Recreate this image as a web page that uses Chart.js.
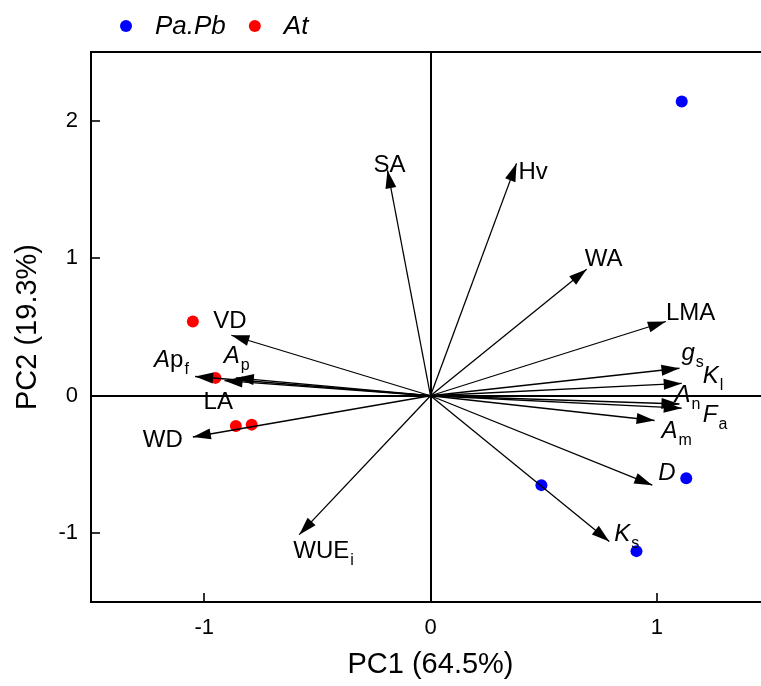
<!DOCTYPE html>
<html>
<head>
<meta charset="utf-8">
<script src="https://cdn.jsdelivr.net/npm/chart.js@4.4.1/dist/chart.umd.min.js"></script>
<style>
  html, body { margin: 0; padding: 0; background: #fff; overflow: hidden; }
  #wrap { width: 776px; height: 686px; }
</style>
</head>
<body>
<div id="wrap"><canvas id="pca" width="776" height="686"></canvas></div>
<script>
// ---- Scores (sample points) ----
const seriesNames  = ['Pa.Pb', 'At'];
const seriesColors = ['#0000ff', '#ff0000'];
const paPbPC1 = [1.11, 0.49, 1.13, 0.91];
const paPbPC2 = [2.14, -0.65, -0.60, -1.13];
const atPC1   = [-1.05, -0.95, -0.86, -0.79];
const atPC2   = [0.54, 0.13, -0.22, -0.21];

// ---- Loadings (trait arrows) ----
const traitNames = ['SA', 'Hv', 'WA', 'LMA', 'gs', 'Kl', 'An', 'Fa', 'Am', 'D', 'Ks', 'WUEi', 'WD', 'VD', 'Apf', 'Ap', 'LA'];
const traitPC1 = [-0.19, 0.38, 0.69, 1.04, 1.10, 1.11, 1.10, 1.11, 0.99, 0.98, 0.79, -0.58, -1.05, -0.88, -1.04, -0.86, -0.91];
const traitPC2 = [1.64, 1.69, 0.92, 0.54, 0.20, 0.09, -0.06, -0.09, -0.18, -0.65, -1.06, -1.01, -0.30, 0.44, 0.14, 0.13, 0.11];

// ---- Axis ticks and titles ----
const xTicks = [-1, 0, 1];
const yTicks = [-1, 0, 1, 2];
const xTitle = 'PC1 (64.5%)';
const yTitle = 'PC2 (19.3%)';

// Rich-text pieces for each trait label: [text, style]
// n = upright, i = italic, sub = upright subscript
const traitText = {
  SA:   [['SA', 'n']],
  Hv:   [['Hv', 'n']],
  WA:   [['WA', 'n']],
  LMA:  [['LMA', 'n']],
  gs:   [['g', 'i'], ['s', 'sub']],
  Kl:   [['K', 'i'], ['l', 'sub']],
  An:   [['A', 'i'], ['n', 'sub']],
  Fa:   [['F', 'i'], ['a', 'sub']],
  Am:   [['A', 'i'], ['m', 'sub']],
  D:    [['D', 'i']],
  Ks:   [['K', 'i'], ['s', 'sub']],
  WUEi: [['WUE', 'n'], ['i', 'sub']],
  WD:   [['WD', 'n']],
  VD:   [['VD', 'n']],
  Apf:  [['A', 'i'], ['p', 'n'], ['f', 'sub']],
  Ap:   [['A', 'i'], ['p', 'sub']],
  LA:   [['LA', 'n']]
};
// Label placement: pixel offset of text start/baseline from the arrow tip
const labelOffset = {
  SA: [-14, 2], Hv: [2, 16], WA: [-2, -3], LMA: [0, -2], gs: [2, -8], Kl: [21, 0],
  An: [-5, -2], Fa: [21, 14], Am: [7, 17], D: [6, -5], Ks: [5, -1], WUEi: [-6, 23],
  WD: [-50, 10], VD: [-18, -7], Apf: [-41, -10], Ap: [-12, -15], LA: [-21, 28]
};

const FONT = "'Liberation Sans', Arial, Helvetica, sans-serif";
Chart.defaults.font.family = FONT;
Chart.defaults.color = '#000';

const toXY = (xs, ys) => xs.map((x, i) => ({ x, y: ys[i] }));

const datasets = [
  {
    label: seriesNames[0], data: toXY(paPbPC1, paPbPC2),
    backgroundColor: seriesColors[0], borderColor: seriesColors[0],
    pointRadius: 6, borderWidth: 0, order: 5
  },
  {
    label: seriesNames[1], data: toXY(atPC1, atPC2),
    backgroundColor: seriesColors[1], borderColor: seriesColors[1],
    pointRadius: 6, borderWidth: 0, order: 5
  }
];
traitNames.forEach((name, i) => {
  datasets.push({
    label: name, isTrait: true,
    data: [{ x: 0, y: 0 }, { x: traitPC1[i], y: traitPC2[i] }],
    showLine: true, borderColor: '#000', borderWidth: 1.3,
    pointRadius: 0, order: 1
  });
});

// Top and right edges of the plot frame
const framePlugin = {
  id: 'frame',
  afterDraw(chart) {
    const { ctx, chartArea: a } = chart;
    ctx.save();
    ctx.strokeStyle = '#000';
    ctx.lineWidth = 2;
    ctx.beginPath();
    ctx.moveTo(a.left, a.top);
    ctx.lineTo(a.right, a.top);
    ctx.lineTo(a.right, a.bottom);
    ctx.stroke();
    ctx.restore();
  }
};

// Arrowheads and trait labels
const arrowPlugin = {
  id: 'arrows',
  afterDatasetsDraw(chart) {
    const { ctx } = chart;
    const xs = chart.scales.x, ys = chart.scales.y;
    const ox = xs.getPixelForValue(0), oy = ys.getPixelForValue(0);
    ctx.save();
    ctx.fillStyle = '#000';
    traitNames.forEach((name, i) => {
      const tx = xs.getPixelForValue(traitPC1[i]);
      const ty = ys.getPixelForValue(traitPC2[i]);
      const ang = Math.atan2(ty - oy, tx - ox);
      const len = 18, half = 5.5;
      const bx = tx - len * Math.cos(ang), by = ty - len * Math.sin(ang);
      ctx.beginPath();
      ctx.moveTo(tx, ty);
      ctx.lineTo(bx + half * Math.sin(ang), by - half * Math.cos(ang));
      ctx.lineTo(bx - half * Math.sin(ang), by + half * Math.cos(ang));
      ctx.closePath();
      ctx.fill();

      // label
      const off = labelOffset[name];
      let x = tx + off[0];
      const base = ty + off[1];
      ctx.textBaseline = 'alphabetic';
      ctx.textAlign = 'left';
      traitText[name].forEach(([txt, st]) => {
        if (st === 'sub') {
          ctx.font = `16px ${FONT}`;
          x += 1;
          ctx.fillText(txt, x, base + 7);
        } else {
          ctx.font = `${st === 'i' ? 'italic ' : ''}24px ${FONT}`;
          ctx.fillText(txt, x, base);
        }
        x += ctx.measureText(txt).width;
      });
    });
    ctx.restore();
  }
};

// Legend row above the plot
const legendPlugin = {
  id: 'legendRow',
  afterDraw(chart) {
    const { ctx } = chart;
    ctx.save();
    ctx.font = `italic 26px ${FONT}`;
    ctx.textBaseline = 'middle';
    ctx.textAlign = 'left';
    let cx = 126;
    const cy = 26;
    chart.data.datasets.filter(d => !d.isTrait).forEach(d => {
      ctx.fillStyle = d.backgroundColor;
      ctx.beginPath();
      ctx.arc(cx, cy, 6, 0, Math.PI * 2);
      ctx.fill();
      ctx.fillStyle = '#000';
      const tx = cx + 29;
      ctx.fillText(d.label, tx, cy + 1);
      cx = tx + ctx.measureText(d.label).width + 29;
    });
    ctx.restore();
  }
};

const zeroLine = c => (c.tick && c.tick.value === 0) ? '#000' : 'rgba(0,0,0,0)';

new Chart(document.getElementById('pca'), {
  type: 'scatter',
  data: { datasets },
  options: {
    responsive: false,
    animation: false,
    devicePixelRatio: 1,
    layout: { padding: { top: 52, left: 0, right: 0, bottom: 0 } },
    plugins: {
      legend: { display: false },
      tooltip: { enabled: false }
    },
    events: [],
    scales: {
      x: {
        type: 'linear', min: -1.5, max: 1.5,
        afterBuildTicks: s => { s.ticks = xTicks.map(v => ({ value: v })); },
        afterFit: s => { s.height = 84; },
        grid: {
          drawOnChartArea: true, color: zeroLine, lineWidth: 2,
          drawTicks: true, tickLength: -9, tickColor: '#000', tickWidth: 1.6
        },
        border: { display: true, color: '#000', width: 2 },
        ticks: { font: { size: 22 }, padding: 22, color: '#000' },
        title: { display: true, text: xTitle, font: { size: 29 }, padding: { top: 0, bottom: 4 }, color: '#000' }
      },
      y: {
        type: 'linear', min: -1.5, max: 2.5,
        afterBuildTicks: s => { s.ticks = yTicks.map(v => ({ value: v })); },
        afterFit: s => { s.width = 91; },
        grid: {
          drawOnChartArea: true, color: zeroLine, lineWidth: 2,
          drawTicks: true, tickLength: -9, tickColor: '#000', tickWidth: 1.6
        },
        border: { display: true, color: '#000', width: 2 },
        ticks: { font: { size: 22 }, padding: 22, color: '#000' },
        title: { display: true, text: yTitle, font: { size: 29 }, padding: { top: 11, bottom: 0 }, color: '#000' }
      }
    }
  },
  plugins: [framePlugin, arrowPlugin, legendPlugin]
});
</script>
</body>
</html>
